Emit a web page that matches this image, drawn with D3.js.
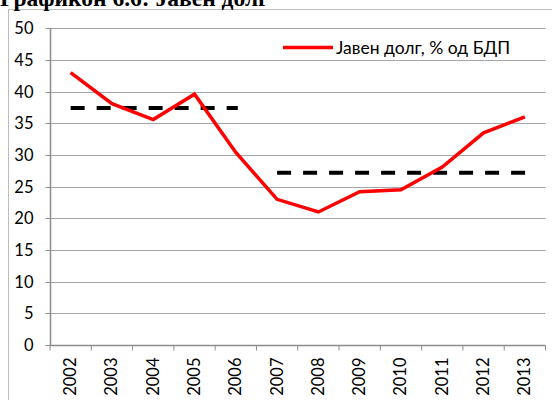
<!DOCTYPE html>
<html><head><meta charset="utf-8">
<script src="https://cdn.jsdelivr.net/npm/d3@7"></script>
<style>body{margin:0;background:#fff;}svg{display:block;}</style>
</head><body>
<script>
const years = ["2002","2003","2004","2005","2006","2007","2008","2009","2010","2011","2012","2013"];
const debt = [43.0, 38.1, 35.6, 39.6, 30.4, 23.0, 21.0, 24.2, 24.5, 28.1, 33.5, 36.0];
const avgPeriods = [
  {from:"2002", to:"2006", value:37.4},
  {from:"2007", to:"2013", value:27.2}
];
const yTicks = [0,5,10,15,20,25,30,35,40,45,50];
const seriesName = "Јавен долг, % од БДП";
const title = "Графикон 6.6: Јавен долг";

const W=552,H=400;
const svg=d3.select("body").append("svg").attr("width",W).attr("height",H);
svg.append("rect").attr("x",8.5).attr("y",9.5).attr("width",560).attr("height",420)
  .attr("fill","none").attr("stroke","#bcbcbc").attr("stroke-width",1);
svg.append("text").attr("x",0).attr("y",5.5).attr("font-family","Liberation Serif")
  .attr("font-weight","bold").attr("font-size",23.5).attr("fill","#000").text(title);

const L=50,R=545.5,T=28.3,B=345;
const x=d3.scaleBand().domain(years).range([L,R]);
const y=d3.scaleLinear().domain([0,50]).range([B,T]);

svg.append("g").selectAll("line").data(yTicks.filter(d=>d>0)).join("line")
  .attr("x1",L).attr("x2",R).attr("y1",d=>Math.round(y(d))+0.5).attr("y2",d=>Math.round(y(d))+0.5)
  .attr("stroke","#a6a6a6").attr("stroke-width",1);

const ya=svg.append("g").attr("transform",`translate(${L+0.5},0)`)
  .call(d3.axisLeft(y).tickValues(yTicks).tickSize(5).tickPadding(12).tickFormat(d3.format("d")));
ya.select(".domain").attr("stroke","#8c8c8c").attr("stroke-width",1.5).attr("d",`M0,${T}V${B}`);
ya.selectAll(".tick line").attr("stroke","#8c8c8c");
ya.selectAll(".tick").attr("transform",d=>`translate(0,${Math.round(y(d))+0.5})`);
ya.selectAll("text").attr("font-family","Lato").attr("font-size",16.5).attr("fill","#000");

const xa=svg.append("g").attr("transform",`translate(0,${B+0.5})`);
xa.append("line").attr("x1",L).attr("x2",R).attr("stroke","#8c8c8c").attr("stroke-width",1.5);
const edges=years.map(d=>x(d)).concat([R]);
xa.selectAll("line.t").data(edges).join("line").attr("class","t")
  .attr("x1",d=>d).attr("x2",d=>d).attr("y1",0).attr("y2",5).attr("stroke","#8c8c8c");
xa.selectAll("text").data(years).join("text")
  .attr("transform",d=>`translate(${x(d)+x.bandwidth()/2+5.5},12) rotate(-90)`)
  .attr("text-anchor","end").attr("font-family","Lato").attr("font-size",16.5).attr("fill","#000").text(d=>d);

const cx=d=>x(d)+x.bandwidth()/2;
svg.append("g").selectAll("line").data(avgPeriods).join("line")
  .attr("x1",d=>cx(d.from)).attr("x2",d=>cx(d.to)+2)
  .attr("y1",d=>y(d.value)).attr("y2",d=>y(d.value))
  .attr("stroke","#000").attr("stroke-width",4).attr("stroke-dasharray","14,12");

const line=d3.line().x((d,i)=>cx(years[i])).y(d=>y(d));
svg.append("path").datum(debt).attr("d",line).attr("fill","none")
  .attr("stroke","#ff0000").attr("stroke-width",3.5).attr("stroke-linejoin","miter");

const lg=svg.append("g");
lg.append("line").attr("x1",283).attr("x2",333).attr("y1",47.5).attr("y2",47.5)
  .attr("stroke","#ff0000").attr("stroke-width",3.5);
lg.append("text").attr("x",336).attr("y",53.5).attr("font-family","Lato").attr("font-size",17.5)
  .attr("fill","#000").text(seriesName);
</script>
</body></html>
